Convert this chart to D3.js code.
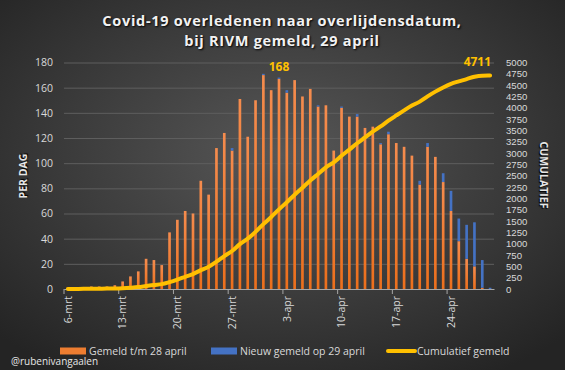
<!DOCTYPE html>
<html>
<head>
<meta charset="utf-8">
<script src="https://cdn.jsdelivr.net/npm/d3@7"></script>
<style>
  html, body { margin: 0; padding: 0; background: #333; }
  svg { display: block; }
  text { font-family: "Open Sans", "Noto Sans", sans-serif; }
</style>
</head>
<body>
<div id="chart"></div>
<script>
// dagen 6 maart t/m 29 april
const days = [
  "6-mrt","7-mrt","8-mrt","9-mrt","10-mrt","11-mrt","12-mrt","13-mrt","14-mrt","15-mrt",
  "16-mrt","17-mrt","18-mrt","19-mrt","20-mrt","21-mrt","22-mrt","23-mrt","24-mrt","25-mrt",
  "26-mrt","27-mrt","28-mrt","29-mrt","30-mrt","31-mrt","1-apr","2-apr","3-apr","4-apr",
  "5-apr","6-apr","7-apr","8-apr","9-apr","10-apr","11-apr","12-apr","13-apr","14-apr",
  "15-apr","16-apr","17-apr","18-apr","19-apr","20-apr","21-apr","22-apr","23-apr","24-apr",
  "25-apr","26-apr","27-apr","28-apr","29-apr"
];
const tickDays = ["6-mrt","13-mrt","20-mrt","27-mrt","3-apr","10-apr","17-apr","24-apr"];

// gemeld t/m 28 april (oranje)
const oldReported = [
  1,1,1,2,2,2,3,6,10,14,
  24,23,19,45,55,62,60,86,75,112,
  124,110,151,121,150,170,158,167,156,166,
  153,159,145,146,110,144,137,137,128,129,
  115,123,116,113,106,83,113,105,85,62,
  38,24,18,1,0
];
// nieuw gemeld op 29 april (blauw)
const newReported = [
  0,0,0,0,0,0,0,0,0,0,
  0,0,0,0,0,0,0,0,0,0,
  0,2,0,0,0,1,0,1,2,0,
  0,0,1,0,0,1,0,2,0,0,
  1,2,0,0,0,3,3,0,7,16,
  18,27,35,22,1
];
// cumulatief gemeld (gele lijn)
const cumulative = [
  1,2,3,5,7,9,12,18,28,42,
  66,89,108,153,208,270,330,416,491,603,
  727,839,990,1111,1261,1432,1590,1758,1916,2082,
  2235,2394,2540,2686,2796,2941,3078,3217,3345,3474,
  3590,3715,3831,3944,4050,4136,4252,4357,4449,4527,
  4583,4634,4687,4710,4711
];
const leftTicks = [0,20,40,60,80,100,120,140,160,180];
const rightTicks = [0,250,500,750,1000,1250,1500,1750,2000,2250,2500,2750,3000,3250,3500,3750,4000,4250,4500,4750,5000];

const W = 565, H = 370;
const svg = d3.select("#chart").append("svg")
    .attr("width", W)
    .attr("height", H);

const defs = svg.append("defs");
const bg = defs.append("radialGradient").attr("id", "bg")
    .attr("cx", "50%").attr("cy", "42%").attr("r", "70%");
bg.append("stop").attr("offset", "0%").attr("stop-color", "#575757");
bg.append("stop").attr("offset", "100%").attr("stop-color", "#242424");

const og = defs.append("linearGradient").attr("id", "orange")
    .attr("x1", 0).attr("y1", 0).attr("x2", 0).attr("y2", 1);
og.append("stop").attr("offset", "0%").attr("stop-color", "#F58C4E");
og.append("stop").attr("offset", "100%").attr("stop-color", "#EC6F1C");

svg.append("rect").attr("width", W).attr("height", H).attr("fill", "url(#bg)");

const x = d3.scaleBand().domain(days).range([64, 494]).padding(0);
const yL = d3.scaleLinear().domain([0, 180]).range([289, 62.5]);
const yR = d3.scaleLinear().domain([0, 5000]).range([289, 62.5]);
const bw = x.bandwidth();
const barW = bw * 0.34;

// gridlines + left axis
const gl = svg.append("g")
    .attr("transform", "translate(64,0)")
    .call(d3.axisLeft(yL).tickValues(leftTicks).tickSize(-430).tickPadding(11));
gl.select(".domain").remove();
gl.selectAll("line").attr("stroke", "#5e5e5e");
gl.selectAll("text").attr("fill", "#d9d9d9").style("font-size", "10.5px");

// right axis
const gr = svg.append("g")
    .attr("transform", "translate(494,0)")
    .call(d3.axisRight(yR).tickValues(rightTicks).tickFormat(d3.format("d")).tickSize(0).tickPadding(12));
gr.select(".domain").remove();
gr.selectAll("text")
    .attr("fill", "#d9d9d9")
    .style("font-family", "'Liberation Sans', Arial, sans-serif")
    .style("font-size", "9.6px");

// bars
const data = days.map((d, i) => ({ day: d, old: oldReported[i], nw: newReported[i] }));
svg.append("g").selectAll("rect")
    .data(data)
    .join("rect")
    .attr("x", d => x(d.day) + (bw - barW) / 2)
    .attr("width", barW)
    .attr("y", d => yL(d.old))
    .attr("height", d => yL(0) - yL(d.old))
    .attr("fill", "url(#orange)");

svg.append("g").selectAll("rect")
    .data(data.filter(d => d.nw > 0))
    .join("rect")
    .attr("x", d => x(d.day) + (bw - barW) / 2)
    .attr("width", barW)
    .attr("y", d => yL(d.old + d.nw))
    .attr("height", d => yL(d.old) - yL(d.old + d.nw))
    .attr("fill", "#4472C4");

// x axis
const gx = svg.append("g")
    .attr("transform", "translate(0,289)")
    .call(d3.axisBottom(x).tickValues(tickDays).tickSize(0));
gx.select(".domain").attr("stroke", "#a6a6a6");
gx.selectAll("text")
    .attr("fill", "#d9d9d9")
    .style("font-size", "10.5px")
    .attr("transform", "rotate(-90)")
    .attr("text-anchor", "end")
    .attr("x", -7)
    .attr("y", 0)
    .attr("dy", "0.35em");
svg.append("g").selectAll("line")
    .data(tickDays)
    .join("line")
    .attr("x1", d => x(d)).attr("x2", d => x(d))
    .attr("y1", 289).attr("y2", 294)
    .attr("stroke", "#a6a6a6");

// cumulative line
const line = d3.line()
    .x((d, i) => x(days[i]) + bw / 2)
    .y(d => yR(d))
    .curve(d3.curveMonotoneX);
svg.append("path")
    .datum(cumulative)
    .attr("d", line)
    .attr("fill", "none")
    .attr("stroke", "#FFC000")
    .attr("stroke-width", 4)
    .attr("stroke-linecap", "round");

// annotations
const peak = 27;
svg.append("text")
    .attr("x", x(days[peak]) + bw / 2)
    .attr("y", yL(oldReported[peak] + newReported[peak]) - 7)
    .attr("text-anchor", "middle")
    .attr("fill", "#FFC000")
    .style("font-size", "12px").style("font-weight", "bold")
    .text(oldReported[peak] + newReported[peak]);
const last = cumulative.length - 1;
svg.append("text")
    .attr("x", x(days[last]) + bw / 2 + 1)
    .attr("y", yR(cumulative[last]) - 10)
    .attr("text-anchor", "end")
    .attr("fill", "#FFC000")
    .style("font-size", "12px").style("font-weight", "bold")
    .text(cumulative[last]);

// title
const title = svg.append("text")
    .attr("text-anchor", "middle")
    .attr("fill", "#f2f2f2")
    .style("font-size", "14.5px").style("font-weight", "bold")
    .style("letter-spacing", "0.7px")
    .style("text-shadow", "1px 1px 2px #000");
title.append("tspan").attr("x", 282).attr("y", 26).text("Covid-19 overledenen naar overlijdensdatum,");
title.append("tspan").attr("x", 282).attr("y", 46).text("bij RIVM gemeld, 29 april");

// axis titles
svg.append("text")
    .attr("transform", "translate(27,176) rotate(-90)")
    .attr("text-anchor", "middle")
    .attr("fill", "#e6e6e6")
    .style("font-size", "10.5px").style("font-weight", "bold")
    .style("text-shadow", "1px 1px 1px #000")
    .text("PER DAG");
svg.append("text")
    .attr("transform", "translate(540,175) rotate(90)")
    .attr("text-anchor", "middle")
    .attr("fill", "#e6e6e6")
    .style("font-size", "10.5px").style("font-weight", "bold")
    .style("text-shadow", "1px 1px 1px #000")
    .text("CUMULATIEF");

// legend
const lg = svg.append("g").style("font-size", "10.5px").attr("fill", "#d9d9d9");
lg.append("rect").attr("x", 60).attr("y", 347.5).attr("width", 26).attr("height", 7).attr("fill", "#ED7D31");
lg.append("text").attr("x", 89).attr("y", 351).attr("dy", "0.35em").text("Gemeld t/m 28 april");
lg.append("rect").attr("x", 211).attr("y", 347.5).attr("width", 26).attr("height", 7).attr("fill", "#4472C4");
lg.append("text").attr("x", 240).attr("y", 351).attr("dy", "0.35em").text("Nieuw gemeld op 29 april");
lg.append("line").attr("x1", 388).attr("x2", 415).attr("y1", 351).attr("y2", 351)
    .attr("stroke", "#FFC000").attr("stroke-width", 4).attr("stroke-linecap", "round");
lg.append("text").attr("x", 417).attr("y", 351).attr("dy", "0.35em").text("Cumulatief gemeld");

svg.append("text")
    .attr("x", 11).attr("y", 361).attr("dy", "0.35em")
    .attr("fill", "#e6e6e6")
    .style("font-size", "10px")
    .text("@rubenivangaalen");
</script>
</body>
</html>
